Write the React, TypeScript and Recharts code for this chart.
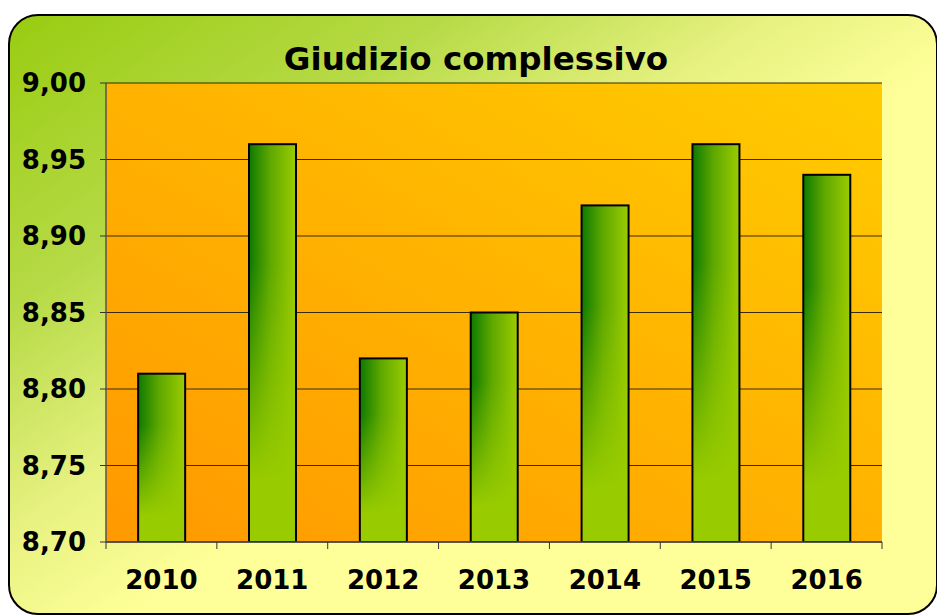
import { BarChart, Bar, XAxis, YAxis, CartesianGrid } from 'recharts';

const years = ['2010', '2011', '2012', '2013', '2014', '2015', '2016'];
const scores = [8.81, 8.96, 8.82, 8.85, 8.92, 8.96, 8.94];
const yTicks = [8.7, 8.75, 8.8, 8.85, 8.9, 8.95, 9.0];

const data = years.map((year, i) => ({ year, score: scores[i] }));

const FONT = '"DejaVu Sans", Verdana, sans-serif';

const fmt = (v: number) => v.toFixed(2).replace('.', ',');

const YearTick = (props: any) => {
  const { x, y, payload, index } = props;
  const half = payload?.offset || 55.4;
  return (
    <g>
      <line x1={x - half} y1={y} x2={x - half} y2={y + 7} stroke="#333" strokeWidth={1} />
      {index === years.length - 1 && (
        <line x1={x + half} y1={y} x2={x + half} y2={y + 7} stroke="#333" strokeWidth={1} />
      )}
      <text x={x} y={y + 47} textAnchor="middle" fontFamily={FONT} fontWeight="bold" fontSize={26} fill="#000">
        {payload.value}
      </text>
    </g>
  );
};

const GreenBar = (props: any) => {
  const { x, y, width, height } = props;
  if (!height || height <= 0) return null;
  return (
    <g>
      <rect x={x} y={y} width={width} height={height} fill="url(#barSide)" />
      <rect x={x} y={y} width={width} height={height} fill="url(#barFade)" />
      <rect x={x} y={y} width={width} height={height} fill="none" stroke="#000" strokeWidth={2} />
    </g>
  );
};

export default function App() {
  return (
    <div style={{ position: 'absolute', left: 0, top: 0, width: 937, height: 615 }}>
      <div
        style={{
          position: 'absolute',
          left: 8,
          top: 14,
          width: 926,
          height: 597,
          border: '2px solid #000',
          borderRadius: 30,
          background: 'linear-gradient(146deg, #99cc11 0%, #b6da46 24%, #e6f180 42%, #ffff99 56%, #ffff99 100%)',
        }}
      />
      <div
        style={{
          position: 'absolute',
          left: 0,
          top: 43,
          width: 952,
          textAlign: 'center',
          fontFamily: FONT,
          fontWeight: 'bold',
          fontSize: 32.5,
          lineHeight: '32px',
          color: '#000',
        }}
      >
        Giudizio complessivo
      </div>
      <div style={{ position: 'absolute', left: 0, top: 0 }}>
        <BarChart
          width={937}
          height={615}
          data={data}
          margin={{ top: 83, right: 55, left: 0, bottom: 0 }}
          barCategoryGap="29%"
        >
          <defs>
            <linearGradient id="plotBg" x1="0" y1="1" x2="1" y2="0">
              <stop offset="0%" stopColor="#ff9900" />
              <stop offset="100%" stopColor="#ffcc00" />
            </linearGradient>
            <linearGradient id="barSide" x1="0" y1="0" x2="1" y2="0">
              <stop offset="0%" stopColor="#0d7a00" />
              <stop offset="45%" stopColor="#5ea800" />
              <stop offset="100%" stopColor="#9ccc00" />
            </linearGradient>
            <linearGradient id="barFade" x1="0" y1="0" x2="0" y2="1">
              <stop offset="30%" stopColor="#99cc00" stopOpacity={0} />
              <stop offset="85%" stopColor="#99cc00" stopOpacity={1} />
            </linearGradient>
          </defs>
          <CartesianGrid vertical={false} stroke="#3a2a00" strokeWidth={1} fill="url(#plotBg)" fillOpacity={1} />
          <XAxis
            dataKey="year"
            height={73}
            axisLine={{ stroke: '#444', strokeWidth: 1.5 }}
            tickLine={false}
            tickSize={0}
            tickMargin={0}
            tick={<YearTick />}
            interval={0}
          />
          <XAxis
            xAxisId="top"
            dataKey="year"
            orientation="top"
            height={0}
            tick={false}
            tickLine={false}
            axisLine={{ stroke: '#888', strokeWidth: 2 }}
          />
          <YAxis
            domain={[8.7, 9.0]}
            ticks={yTicks}
            width={106}
            allowDataOverflow
            axisLine={{ stroke: '#555', strokeWidth: 1.5 }}
            tickLine={{ stroke: '#333' }}
            tickSize={6}
            tickMargin={14}
            tickFormatter={fmt}
            tick={{ fontFamily: FONT, fontWeight: 'bold', fontSize: 26, fill: '#000' }}
          />
          <YAxis
            yAxisId="right"
            orientation="right"
            domain={[8.7, 9.0]}
            width={0}
            tick={false}
            tickLine={false}
            axisLine={{ stroke: '#888', strokeWidth: 2 }}
          />
          <Bar dataKey="score" shape={<GreenBar />} isAnimationActive={false} />
        </BarChart>
      </div>
    </div>
  );
}
